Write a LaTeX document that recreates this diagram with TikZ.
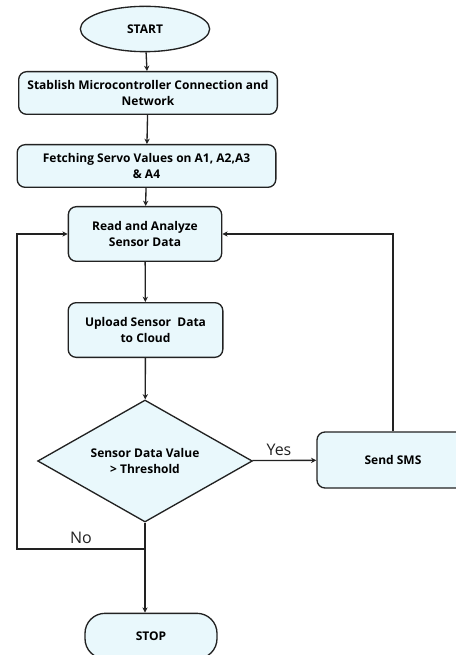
\documentclass[tikz,border=0pt]{standalone}
\usepackage{fontspec}
\setmainfont{Open Sans}
\usepackage{xcolor}
\usetikzlibrary{shapes.geometric,arrows.meta}

\definecolor{boxfill}{HTML}{E9F8FC}
\definecolor{boxline}{HTML}{222222}

\tikzset{
  flowbox/.style={draw=boxline, fill=boxfill, line width=1pt, rounded corners=6pt,
    align=center, font=\bfseries\fontsize{9}{12.5}\selectfont, inner sep=2pt},
  terminal/.style={flowbox, ellipse, rounded corners=0pt},
  decision/.style={flowbox, diamond, aspect=1.76, rounded corners=0pt, inner sep=0pt},
  arr/.style={->, line width=1pt, draw=boxline},
  lbl/.style={font=\fontsize{12}{14}\selectfont, text=boxline}
}

\begin{document}
\begin{tikzpicture}[>={Stealth[length=4pt,width=4pt]}, x=0.75pt, y=-0.75pt]
\useasboundingbox (0,0) rectangle (455,655);

% main column
\node[terminal, minimum width=97pt, minimum height=34pt] (start) at (145,29) {START};
\node[flowbox, minimum width=194pt, minimum height=32pt] (connect) at (148,93) {Stablish Microcontroller Connection and\\Network};
\node[flowbox, minimum width=194pt, minimum height=32pt] (fetch) at (146.5,166) {Fetching Servo Values on A1, A2,A3\\\& A4};
\node[flowbox, minimum width=115pt, minimum height=41pt] (read) at (145,234) {Read and Analyze\\Sensor Data};
\node[flowbox, minimum width=116pt, minimum height=41pt] (upload) at (145.5,330) {Upload Sensor\ \ Data\\to Cloud};
\node[decision, minimum width=161pt, minimum height=91.5pt] (check) at (145,461) {Sensor Data Value\\> Threshold};
\node[flowbox, rounded corners=15pt, minimum width=99pt, minimum height=34pt] (stop) at (151,636) {STOP};

% right branch
\node[flowbox, minimum width=114pt, minimum height=42pt] (sms) at (393,460) {Send SMS};

% junction of the No line
\coordinate (nojoin) at (145,549);
\coordinate (leftturn) at (17,549);

% arrows
\draw[arr] (start) -- (connect);
\draw[arr] (connect) -- (fetch);
\draw[arr] (fetch) -- (read);
\draw[arr] (read) -- (upload);
\draw[arr] (upload) -- (check);
\draw[arr] (check) -- node[lbl, above, xshift=-4pt] {Yes} (sms);
\draw[arr] (sms.north) |- (read.east);
\draw[arr] (check.south) -- (check.south |- stop.north);
\draw[arr] (nojoin) -- node[lbl, above, pos=0.5] {No} (leftturn) |- (read.west);
\end{tikzpicture}
\end{document}
